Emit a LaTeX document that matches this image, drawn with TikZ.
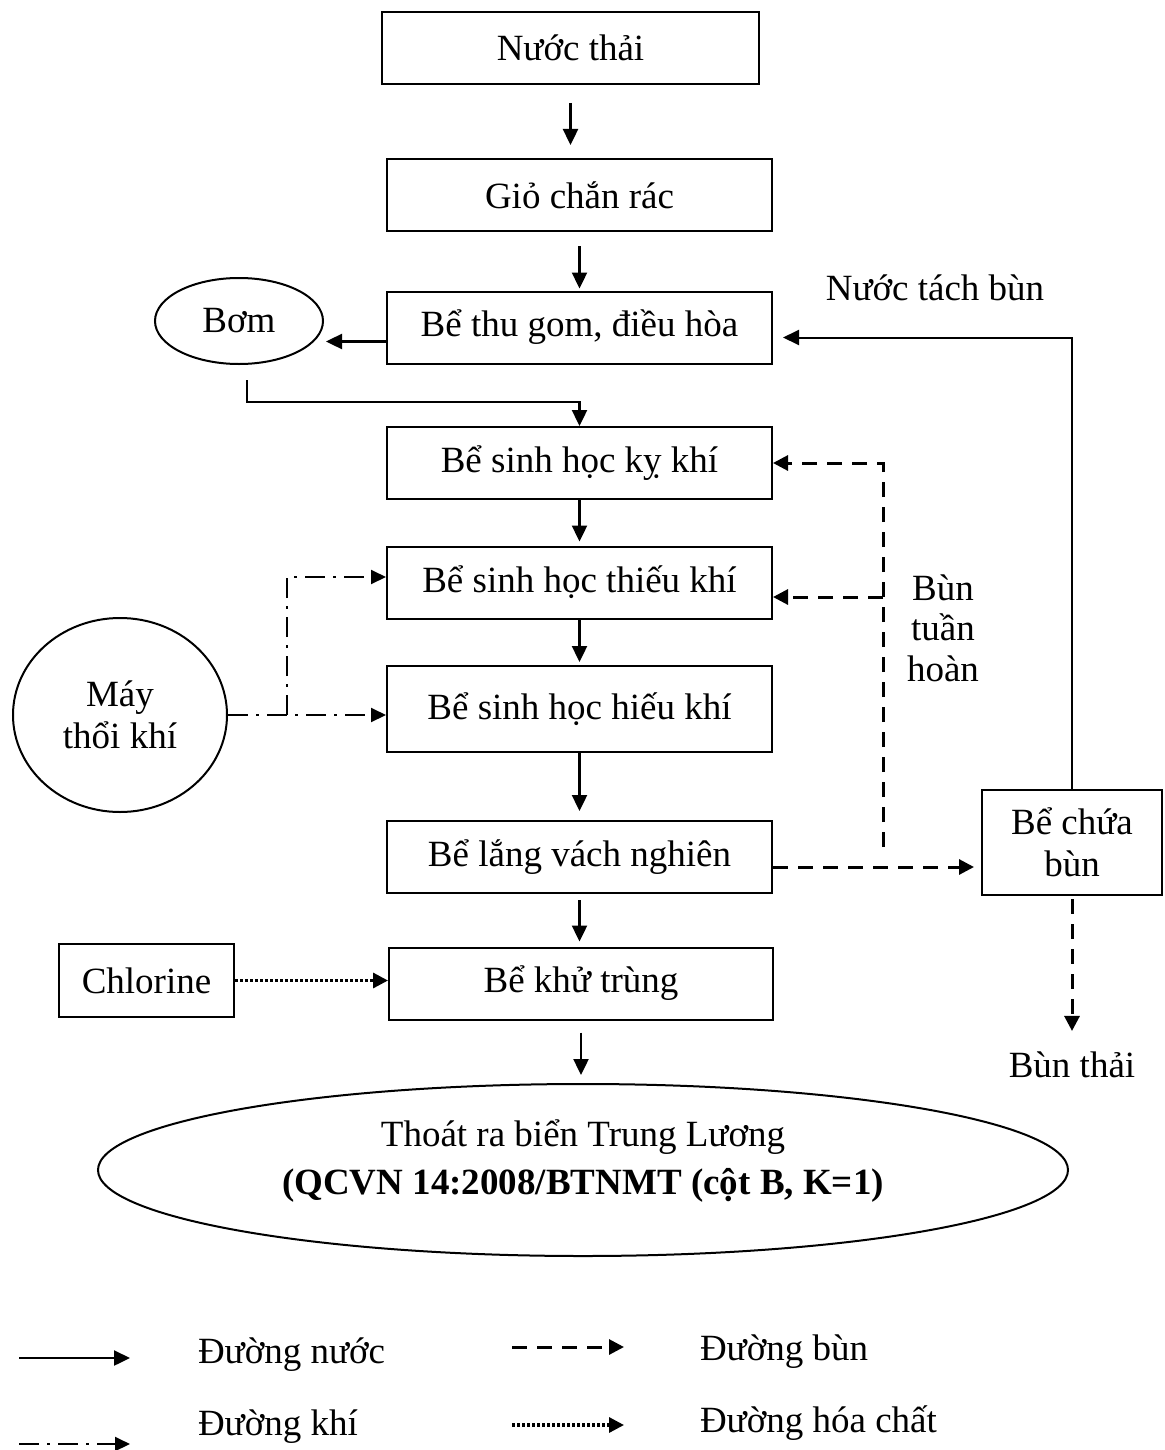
\documentclass[tikz,border=0pt]{standalone}
\usepackage{fontspec}
\setmainfont{Liberation Serif}
\usetikzlibrary{shapes.geometric,arrows.meta}

\begin{document}
\begin{tikzpicture}
  [x=0.5pt,y=-0.5pt,line width=1pt,
   every node/.style={font=\fontsize{18.5}{21}\selectfont,align=center},
   box/.style={draw,rectangle,minimum width=192.5pt,minimum height=36pt,inner sep=2pt},
   oval/.style={draw,ellipse,inner sep=0pt},
   tag/.style={inner sep=0pt},
   water/.style={-{Triangle[length=8pt,width=7.5pt]},line width=1.2pt},
   sludge/.style={-{Triangle[length=7.5pt,width=7.5pt]},line width=1.5pt,dash pattern=on 7.5pt off 5pt},
   air/.style={-{Triangle[length=7.5pt,width=7pt]},dash pattern=on 10pt off 4pt on 1.5pt off 4pt},
   chem/.style={-{Triangle[length=7.5pt,width=7.5pt]},line width=1.6pt,dash pattern=on 1.3pt off 1.2pt}]
  \useasboundingbox (0,0) rectangle (1164,1450);

  % main line
  \node[box,minimum width=188.5pt] (n1) at (570.5,48) {Nước thải};
  \node[box] (n2) at (579.5,195) {Giỏ chắn rác};
  \node[box] (n3) at (579.5,327.5) {Bể thu gom, điều hòa};
  \node[box] (n4) at (579.5,463) {Bể sinh học kỵ khí};
  \node[box] (n5) at (579.5,582.5) {Bể sinh học thiếu khí};
  \node[box,minimum height=43pt] (n6) at (579.5,709) {Bể sinh học hiếu khí};
  \node[box] (n7) at (579.5,857) {Bể lắng vách nghiên};
  \node[box,minimum width=192pt] (n8) at (581,983.5) {Bể khử trùng};
  \node[oval,minimum width=485pt,minimum height=86pt] (n9) at (583,1170)
    {Thoát ra biển Trung Lương\\[3pt]\textbf{(QCVN 14:2008/BTNMT (cột B, K=1)}\\[-8pt]\mbox{}};

  % side units
  \node[oval,minimum width=84pt,minimum height=43pt] (m1) at (239,321) {Bơm};
  \node[oval,minimum width=107pt,minimum height=97pt] (m2) at (120,715) {Máy\\thổi khí};
  \node[box,minimum width=87.5pt,minimum height=36.5pt] (m3) at (146.5,980.5) {Chlorine};
  \node[box,minimum width=90pt,minimum height=52.5pt] (m4) at (1072,842.5) {Bể chứa\\bùn};

  \node[tag] (t1) at (935,288) {Nước tách bùn};
  \node[tag,font=\fontsize{18.5}{20.25}\selectfont] (t2) at (943,628) {Bùn\\tuần\\hoàn};
  \node[tag] (t3) at (1072,1065) {Bùn thải};

  \coordinate (ret) at (883,847);
  \coordinate (ret2) at (883,597);
  \coordinate (blow) at (287,715);

  \foreach \from/\to/\a/\b in {n1/n2/9pt/6.5pt,n2/n3/7pt/1pt,n4/n5/0pt/2pt,
      n5/n6/0pt/1.5pt,n6/n7/0pt/4.5pt,n7/n8/3pt/2.5pt,n8/n9/6pt/4pt}
    \draw[water,shorten <=\a,shorten >=\b] (\from.south) -- (\from.south |- \to.north);

  \draw[water,shorten >=1pt] ([yshift=-7pt]n3.west) -- ([yshift=-7pt]n3.west -| m1.east);
  \draw[water] ([xshift=4pt,yshift=-7.5pt]m1.south) |- ([yshift=12pt]n4.north) -- (n4.north);
  \draw[water,line width=1pt,shorten >=5pt] (m4.north) |- ([yshift=-5pt]n3.east);

  % sludge
  \draw[sludge,shorten >=3.5pt] ([yshift=-5pt]n7.east) -- ([yshift=-5pt]n7.east -| m4.west);
  \draw[sludge] (ret) |- (n4.east);
  \draw[sludge] (ret2) -- (ret2 -| n5.east);
  \draw[sludge,shorten <=1.5pt,shorten >=10pt] (m4.south) -- (m4.south |- t3.north);

  % air and chemicals
  \draw[air] (m2.east) -- (m2.east -| n6.west);
  \draw[air] (blow) |- ([yshift=2.75pt]n5.west);
  \draw[chem] (m3.east) -- (m3.east -| n8.west);

  % legend
  \coordinate (l1) at (19,1358);  \coordinate (l2) at (130,1358);
  \coordinate (l3) at (512,1347); \coordinate (l4) at (624,1347);
  \coordinate (l5) at (19,1444);  \coordinate (l6) at (130,1444);
  \coordinate (l7) at (512,1425); \coordinate (l8) at (624,1425);
  \draw[water] (l1) -- (l2);
  \draw[sludge] (l3) -- (l4);
  \draw[air] (l5) -- (l6);
  \draw[chem] (l7) -- (l8);
  \node[tag,anchor=west] (t4) at (197,1355) {Đường nước};
  \node[tag,anchor=west] (t5) at (699,1352) {Đường bùn};
  \node[tag,anchor=west] (t6) at (197,1427) {Đường khí};
  \node[tag,anchor=west] (t7) at (699,1423) {Đường hóa chất};

\end{tikzpicture}
\end{document}
